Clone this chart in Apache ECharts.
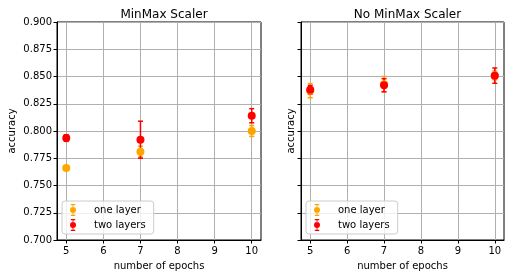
<!DOCTYPE html>
<html><head><meta charset="utf-8">
<script src="https://cdn.jsdelivr.net/npm/echarts@6/dist/echarts.min.js"></script>
<style>html,body{margin:0;padding:0;background:#fff}#c{width:513px;height:278px}</style>
</head><body><div id="c"></div>
<script>
const epochs = [5, 7, 10];
const xTicks = [5, 6, 7, 8, 9, 10];
const yTicks = [0.700, 0.725, 0.750, 0.775, 0.800, 0.825, 0.850, 0.875, 0.900];
const titles = ['MinMax Scaler', 'No MinMax Scaler'];
const seriesNames = ['one layer', 'two layers'];
// MinMax scaler
const mmOneMean = [0.766, 0.781, 0.800];
const mmOneErr  = [0.002, 0.005, 0.005];
const mmTwoMean = [0.7935, 0.792, 0.814];
const mmTwoErr  = [0.003, 0.017, 0.0065];
// No MinMax scaler
const noOneMean = [0.837, 0.843, 0.851];
const noOneErr  = [0.0065, 0.007, 0.004];
const noTwoMean = [0.8378, 0.842, 0.8508];
const noTwoErr  = [0.004, 0.006, 0.007];

const colors = ['#FFA500', '#FF0000'];
const FONT = 'DejaVu Sans';
const legendIcon = 'path://M2,0h6v1.6h-6z M4.4,0h1.2v16h-1.2z M2,14.4h6v1.6h-6z M1,8a4,4 0 1,1 8,0a4,4 0 1,1 -8,0z';

function errSeries(name, means, errs, gi, color) {
  const data = epochs.map((e, i) => [e, means[i] - errs[i], means[i] + errs[i]]);
  return {
    type: 'custom', name: name, xAxisIndex: gi, yAxisIndex: gi, z: 3,
    itemStyle: {color: color},
    renderItem: function (params, api) {
      const x = api.value(0);
      const lo = api.coord([x, api.value(1)]);
      const hi = api.coord([x, api.value(2)]);
      const w = 2.5;
      const st = {stroke: color, lineWidth: 1.5};
      return {type: 'group', children: [
        {type: 'line', shape: {x1: lo[0], y1: lo[1], x2: hi[0], y2: hi[1]}, style: st},
        {type: 'line', shape: {x1: lo[0] - w, y1: lo[1], x2: lo[0] + w, y2: lo[1]}, style: st},
        {type: 'line', shape: {x1: hi[0] - w, y1: hi[1], x2: hi[0] + w, y2: hi[1]}, style: st}
      ]};
    },
    encode: {x: 0, y: [1, 2]},
    data: data, silent: true
  };
}
function ptSeries(name, means, gi, color) {
  return {
    type: 'scatter', name: name, xAxisIndex: gi, yAxisIndex: gi, z: 4,
    symbol: 'circle', symbolSize: 8, itemStyle: {color: color, opacity: 1},
    data: epochs.map((e, i) => [e, means[i]]), silent: true
  };
}

const grids = [{left: 57, top: 22, width: 204, height: 218}, {left: 301, top: 22, width: 203, height: 218}];
const xAxes = grids.map((g, i) => ({
  type: 'value', gridIndex: i, min: 4.75, max: 10.25,
  name: 'number of epochs', nameLocation: 'middle', nameGap: 21,
  nameTextStyle: {fontFamily: FONT, fontSize: 10, color: '#000'},
  axisLine: {show: true, onZero: false, lineStyle: {color: '#000', width: 1}},
  axisTick: {show: true, length: 3.5, inside: false, customValues: xTicks, lineStyle: {color: '#000'}},
  axisLabel: {customValues: xTicks, fontFamily: FONT, fontSize: 10, color: '#000', margin: 6},
  splitLine: {show: true, lineStyle: {color: '#b0b0b0', width: 1}}
}));
const yAxes = grids.map((g, i) => ({
  type: 'value', gridIndex: i, min: 0.7, max: 0.9, interval: 0.025,
  name: 'accuracy', nameLocation: 'middle', nameGap: i === 0 ? 40 : 5,
  nameTextStyle: {fontFamily: FONT, fontSize: 10, color: '#000'},
  axisLine: {show: true, onZero: false, lineStyle: {color: '#000', width: 1}},
  axisTick: {show: true, length: 3.5, lineStyle: {color: '#000'}},
  axisLabel: {show: i === 0, fontFamily: FONT, fontSize: 10, color: '#000', margin: 5,
    formatter: v => v.toFixed(3)},
  splitLine: {show: true, lineStyle: {color: '#b0b0b0', width: 1}}
}));

const sets = [[mmOneMean, mmOneErr, mmTwoMean, mmTwoErr], [noOneMean, noOneErr, noTwoMean, noTwoErr]];
const series = [];
sets.forEach((s, gi) => {
  series.push(errSeries(seriesNames[0], s[0], s[1], gi, colors[0]));
  series.push(ptSeries(seriesNames[0], s[0], gi, colors[0]));
  series.push(errSeries(seriesNames[1], s[2], s[3], gi, colors[1]));
  series.push(ptSeries(seriesNames[1], s[2], gi, colors[1]));
});

const option = {
  animation: false,
  backgroundColor: '#fff',
  color: colors,
  title: titles.map((t, i) => ({
    text: t, left: grids[i].left + grids[i].width / 2, top: 4, textAlign: 'center',
    textStyle: {fontFamily: FONT, fontSize: 12, fontWeight: 'normal', color: '#000'}
  })),
  grid: grids.map(g => Object.assign({show: true, borderColor: '#000', borderWidth: 1, backgroundColor: 'transparent'}, g)),
  xAxis: xAxes,
  yAxis: yAxes,
  legend: grids.map((g, i) => ({
    data: seriesNames.map(n => ({name: n, icon: legendIcon})),
    orient: 'vertical', left: g.left + 5, top: 201,
    itemWidth: 8, itemHeight: 12, itemGap: 3,
    padding: [3, 8, 3, 8],
    backgroundColor: 'rgba(255,255,255,0.8)', borderColor: '#ccc', borderWidth: 1, borderRadius: 3,
    textStyle: {fontFamily: FONT, fontSize: 10, color: '#000', padding: [0, 0, 0, 12]},
    selectedMode: false
  })),
  series: series
};
const chart = echarts.init(document.getElementById('c'), null, {renderer: 'canvas'});
chart.setOption(option);
</script></body></html>
